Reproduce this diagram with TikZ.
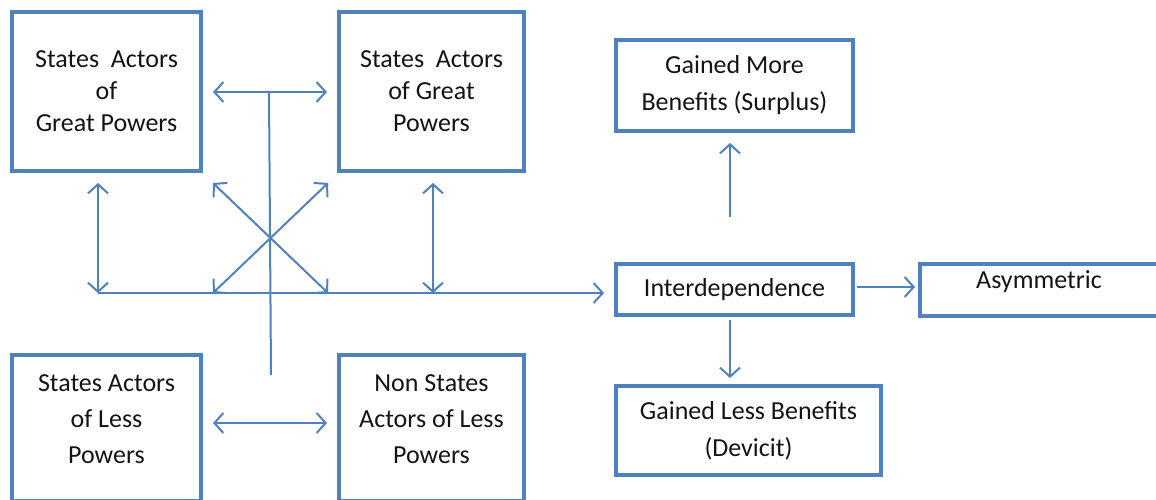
\documentclass[tikz,border=0pt]{standalone}
\usepackage{fontspec}
\setmainfont{Carlito}
\usetikzlibrary{arrows.meta,calc}
\definecolor{ob}{HTML}{4F81BD}
\begin{document}
\begin{tikzpicture}[x=1pt,y=-1pt,
  box/.style={draw=ob, line width=4pt, inner sep=0pt, align=center, text=black!92,
    font=\fontsize{26}{32}\selectfont},
  lbl/.style={align=center, text=black!92, font=\fontsize{26}{36}\selectfont},
  conn/.style={draw=ob, line width=2pt, line cap=butt},
  tip/.style={arrows={-Straight Barb[length=9pt,width=20pt,line width=2pt]}},
  dtip/.style={arrows={Straight Barb[length=9pt,width=20pt,line width=2pt]-Straight Barb[length=9pt,width=20pt,line width=2pt]}}]
\useasboundingbox (0,0) rectangle (1156,500);

% boxes
\node[box, minimum width=189, minimum height=159] (A) at (106.5,91.5) {States\ \ Actors\\of\\Great Powers};
\node[box, minimum width=185, minimum height=159] (B) at (431.5,91.5) {States\ \ Actors\\of Great\\Powers};
\node[box, minimum width=189, minimum height=146] (C) at (106.5,428) {};
\node[lbl] (Ct) at (106.5,419) {States Actors\\of Less\\Powers};
\node[box, minimum width=185, minimum height=146] (D) at (431.5,428) {};
\node[lbl] (Dt) at (431.5,419) {Non States\\Actors of Less\\Powers};
\node[box, minimum width=237, minimum height=91, font=\fontsize{26}{37}\selectfont] (E) at (734.5,85.5) {Gained More\\Benefits (Surplus)};
\node[box, minimum width=237, minimum height=51] (F) at (734.5,289.5) {Interdependence};
\node[box, minimum width=238, minimum height=52] (G) at (1039,290) {};
\node[lbl] (Gt) at (1039,282) {Asymmetric};
\node[box, minimum width=265, minimum height=89, font=\fontsize{26}{37}\selectfont] (H) at (748.5,430.5) {Gained Less Benefits\\(Devicit)};

% coordinates
\coordinate (ab1) at (213,92);
\coordinate (ab2) at (327,92);
\coordinate (vt) at (269,92);
\coordinate (vb) at (271,375);
\coordinate (x1) at (213,183);
\coordinate (x2) at (328,293);
\coordinate (x3) at (328,183);
\coordinate (x4) at (213,293);
\coordinate (l1) at (98,183);
\coordinate (l2) at (98,293);
\coordinate (r1) at (433,183);
\coordinate (r2) at (433,293);
\coordinate (hend) at (604,293);
\coordinate (cd1) at (213,423);
\coordinate (cd2) at (327,423);
\coordinate (up1) at (730,217);
\coordinate (up2) at (730,143);
\coordinate (fg1) at (857,287);
\coordinate (fg2) at (915,287);
\coordinate (dn1) at (730,320);
\coordinate (dn2) at (730,378);

% connectors
\draw[conn, dtip] (ab1) -- (ab2);
\draw[conn] (vt) -- (vb);
\draw[conn, dtip] (x1) -- (x2);
\draw[conn, dtip] (x3) -- (x4);
\draw[conn, dtip] (l1) -- (l2);
\draw[conn, dtip] (r1) -- (r2);
\draw[conn, tip] (l2) -- (hend);
\draw[conn, dtip] (cd1) -- (cd2);
\draw[conn, tip] (up1) -- (up2);
\draw[conn, tip] (fg1) -- (fg2);
\draw[conn, tip] (dn1) -- (dn2);
\end{tikzpicture}
\end{document}
